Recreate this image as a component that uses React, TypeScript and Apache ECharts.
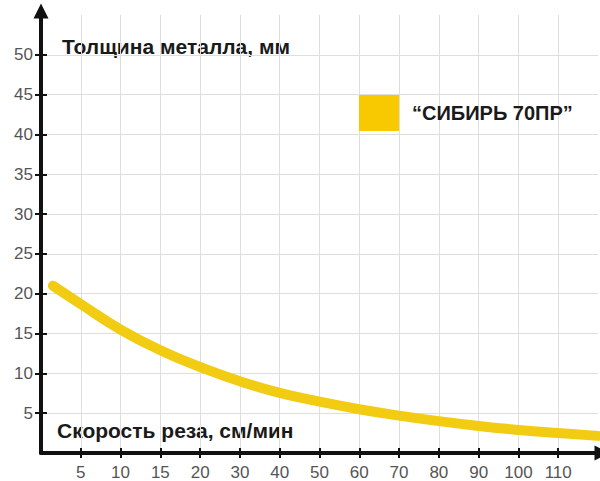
import React, { useEffect, useRef } from "react";
import * as echarts from "echarts";

const categories = ["5", "10", "15", "20", "30", "40", "50", "60", "70", "80", "90", "100", "110"];
const curveX = [0.3, 1, 2, 3, 4, 5, 6, 7, 8, 9, 10, 11, 12, 13, 14];
const thickness = [21.0, 18.7, 15.5, 12.9, 10.8, 9.0, 7.55, 6.45, 5.5, 4.7, 4.0, 3.4, 2.9, 2.5, 2.15];
const yTicks = [5, 10, 15, 20, 25, 30, 35, 40, 45, 50];
const xTicks = [1, 2, 3, 4, 5, 6, 7, 8, 9, 10, 11, 12, 13];
const seriesName = "“СИБИРЬ 70ПР”";
const yTitle = "Толщина металла, мм";
const xTitle = "Скорость реза, см/мин";

export default function App() {
  const ref = useRef<HTMLDivElement>(null);
  useEffect(() => {
    if (!ref.current) return;
    const chart = echarts.init(ref.current, null, { renderer: "svg" });
    const font = "Liberation Sans, Arial, sans-serif";
    const axisLine = {
      show: true,
      symbol: ["none", "triangle"],
      symbolSize: [15, 15],
      symbolOffset: [0, 4],
      lineStyle: { color: "#111", width: 4 },
    };
    chart.setOption({
      animation: false,
      backgroundColor: "#fff",
      grid: { left: 41, right: 2, top: 15, bottom: 28, containLabel: false },
      legend: {
        left: 359,
        top: 95,
        padding: 0,
        icon: "rect",
        itemWidth: 40,
        itemHeight: 36,
        data: [{ name: seriesName, itemStyle: { color: "#F8C800" } }],
        textStyle: {
          fontFamily: font,
          fontWeight: "bold",
          fontSize: 20,
          color: "#1a1a1a",
          padding: [0, 0, 0, 8],
        },
        selectedMode: false,
      },
      xAxis: [
        {
          type: "value",
          min: 0,
          max: 14,
          interval: 1,
          axisLine,
          axisTick: { show: true, customValues: xTicks, length: 5, lineStyle: { color: "#111", width: 2 } },
          axisLabel: {
            customValues: xTicks,
            formatter: (v: number) => categories[v - 1] ?? "",
            color: "#555",
            fontFamily: font,
            fontSize: 17,
            margin: 11,
          },
          splitLine: { show: true, lineStyle: { color: "#dedede", width: 1 } },
        },
        {
          type: "value",
          min: 0,
          max: 14,
          interval: 1,
          position: "bottom",
          axisLine: { show: false },
          axisTick: { show: true, inside: true, customValues: xTicks, length: 5, lineStyle: { color: "#111", width: 2 } },
          axisLabel: { show: false },
          splitLine: { show: false },
        },
      ],
      yAxis: [
        {
          type: "value",
          min: 0,
          max: 55,
          interval: 5,
          axisLine,
          axisTick: { show: true, customValues: yTicks, length: 6, lineStyle: { color: "#111", width: 2 } },
          axisLabel: {
            customValues: yTicks,
            color: "#555",
            fontFamily: font,
            fontSize: 17,
            margin: 8,
          },
          splitLine: { show: true, lineStyle: { color: "#dedede", width: 1 } },
        },
        {
          type: "value",
          min: 0,
          max: 55,
          interval: 5,
          position: "left",
          axisLine: { show: false },
          axisTick: { show: true, inside: true, customValues: yTicks, length: 6, lineStyle: { color: "#111", width: 2 } },
          axisLabel: { show: false },
          splitLine: { show: false },
        },
      ],
      series: [
        {
          name: seriesName,
          type: "line",
          smooth: true,
          showSymbol: false,
          data: curveX.map((x, i) => [x, thickness[i]]),
          lineStyle: { color: "#F2CC12", width: 10, cap: "round" },
          itemStyle: { color: "#F8C800" },
          z: 5,
        },
      ],
      graphic: [
        {
          type: "text",
          left: 62,
          top: 36,
          style: { text: yTitle, fontFamily: font, fontWeight: "bold", fontSize: 21, fill: "#1a1a1a" },
        },
        {
          type: "text",
          left: 57,
          top: 420,
          style: { text: xTitle, fontFamily: font, fontWeight: "bold", fontSize: 21, fill: "#1a1a1a" },
        },
      ],
    });
    return () => chart.dispose();
  }, []);
  return <div ref={ref} style={{ position: "fixed", left: 0, top: 0, width: 600, height: 481 }} />;
}
